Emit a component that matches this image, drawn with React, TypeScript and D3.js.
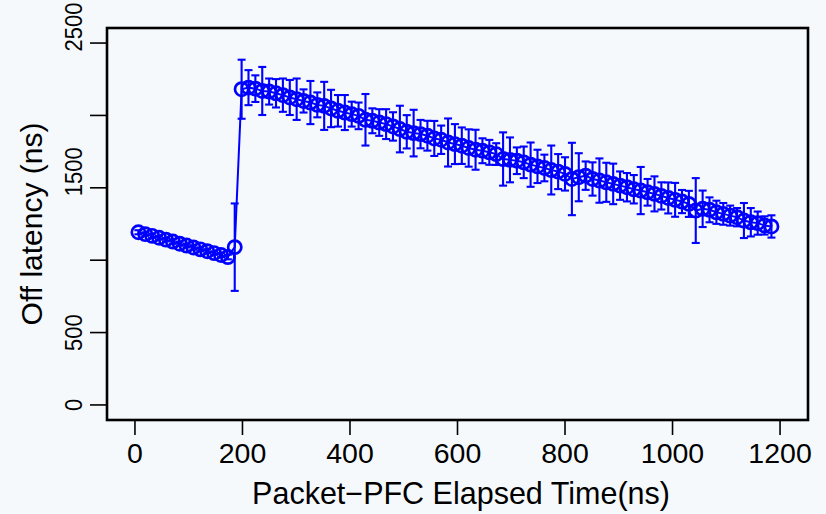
import React from "react";
import * as d3 from "d3";

// elapsed time (ns) between packet and PFC
const times = [
  6.4, 19.2, 32, 44.8, 57.6, 70.4, 83.2, 96, 108.8, 121.6, 134.4, 147.2, 160, 172.8,
  185.6, 198.4, 211.2, 224, 236.8, 249.6, 262.4, 275.2, 288, 300.8, 313.6, 326.4,
  339.2, 352, 364.8, 377.6, 390.4, 403.2, 416, 428.8, 441.6, 454.4, 467.2, 480,
  492.8, 505.6, 518.4, 531.2, 544, 556.8, 569.6, 582.4, 595.2, 608, 620.8, 633.6,
  646.4, 659.2, 672, 684.8, 697.6, 710.4, 723.2, 736, 748.8, 761.6, 774.4, 787.2,
  800, 812.8, 825.6, 838.4, 851.2, 864, 876.8, 889.6, 902.4, 915.2, 928, 940.8,
  953.6, 966.4, 979.2, 992, 1004.8, 1017.6, 1030.4, 1043.2, 1056, 1068.8, 1081.6,
  1094.4, 1107.2, 1120, 1132.8, 1145.6, 1158.4, 1171.2, 1184,
];

// mean off latency (ns)
const latency = [
  1193, 1180, 1168, 1155, 1142, 1129, 1114, 1101, 1088, 1075, 1062, 1049, 1036, 1022,
  1090,
  2181, 2192, 2185, 2169, 2165, 2153, 2140, 2124, 2112, 2100, 2089, 2073, 2066, 2048,
  2032, 2020, 2009, 1997, 1970, 1963, 1951, 1940, 1924, 1906, 1887, 1878, 1871, 1860,
  1841, 1832, 1813, 1802, 1791, 1775, 1763, 1756, 1745, 1733, 1699, 1693,
  1687, 1676, 1660, 1648, 1637, 1623, 1612, 1596, 1561, 1573, 1584, 1561, 1550, 1538,
  1527, 1515, 1504, 1490, 1481, 1469, 1458, 1444, 1430, 1417, 1405, 1389, 1343, 1355,
  1348, 1331, 1320, 1308, 1297, 1274, 1262, 1256, 1240, 1233,
];

// error (+/-) around each mean
const errs = [
  14, 12, 15, 13, 12, 16, 14, 12, 15, 13, 14, 12, 15, 16,
  302,
  204, 121, 92, 166, 90, 98, 115, 121, 143, 80, 149, 86, 166, 129,
  109, 121, 86, 92, 178, 86, 92, 103, 98, 161, 115, 161, 98, 103,
  121, 98, 166, 138, 126, 129, 138, 86, 86, 75, 184, 155,
  92, 109, 153, 115, 92, 169, 121, 115, 250, 166, 98, 115, 153, 135,
  140, 98, 98, 98, 163, 92, 121, 94, 107, 117, 80, 90, 224, 126,
  86, 80, 75, 69, 63, 121, 98, 80, 63, 77,
];

const xTicks = [0, 200, 400, 600, 800, 1000, 1200];
const yTicks = [0, 500, 1000, 1500, 2000, 2500];
const yLabelTicks = [0, 500, 1500, 2500];

const W = 826;
const H = 514;
const box = { left: 107, right: 808, top: 28, bottom: 420 };
const font = "'Liberation Sans', Arial, Helvetica, sans-serif";
const blue = "#0000ff";

export default function App() {
  //scales, R style expanded range
  const x = d3.scaleLinear().domain([-52, 1252]).range([box.left, box.right]);
  const y = d3.scaleLinear().domain([-104, 2604]).range([box.bottom, box.top]);

  const pts = times.map((t, i) => ({ t, v: latency[i], e: errs[i] }));
  const line = d3
    .line<{ t: number; v: number }>()
    .x((d) => x(d.t))
    .y((d) => y(d.v));

  const cap = 4;

  return (
    <svg
      width={W}
      height={H}
      style={{ position: "absolute", left: 0, top: 0, background: "#f6f9fc" }}
      fontFamily={font}
    >
      <rect x={0} y={0} width={W} height={H} fill="#f6f9fc" />

      {/* error bars */}
      <g stroke={blue} strokeWidth={2.1} fill="none">
        {pts.map((d, i) => (
          <g key={i}>
            <line x1={x(d.t)} x2={x(d.t)} y1={y(d.v - d.e)} y2={y(d.v + d.e)} />
            <line x1={x(d.t) - cap} x2={x(d.t) + cap} y1={y(d.v - d.e)} y2={y(d.v - d.e)} />
            <line x1={x(d.t) - cap} x2={x(d.t) + cap} y1={y(d.v + d.e)} y2={y(d.v + d.e)} />
          </g>
        ))}
      </g>

      {/* line + open circles */}
      <path d={line(pts) || ""} fill="none" stroke={blue} strokeWidth={2} />
      <g stroke={blue} strokeWidth={2.7} fill="none">
        {pts.map((d, i) => (
          <circle key={i} cx={x(d.t)} cy={y(d.v)} r={6.6} />
        ))}
      </g>

      {/* box */}
      <rect
        x={box.left}
        y={box.top}
        width={box.right - box.left}
        height={box.bottom - box.top}
        fill="none"
        stroke="#000"
        strokeWidth={2.6}
      />

      {/* x axis */}
      <g>
        {xTicks.map((t) => (
          <g key={t}>
            <line x1={x(t)} x2={x(t)} y1={box.bottom} y2={box.bottom + 15} stroke="#000" strokeWidth={1.6} />
            <text x={x(t)} y={463} textAnchor="middle" fontSize={28.5} fill="#000">
              {t}
            </text>
          </g>
        ))}
        <text x={461} y={504} textAnchor="middle" fontSize={30.5} fill="#000">
          Packet−PFC Elapsed Time(ns)
        </text>
      </g>

      {/* y axis */}
      <g>
        {yTicks.map((t) => (
          <line key={t} x1={box.left - 17} x2={box.left} y1={y(t)} y2={y(t)} stroke="#000" strokeWidth={1.6} />
        ))}
        {yLabelTicks.map((t) => {
          // four-digit labels sit a little above their tick, as in the source plot
          const shift = String(t).length >= 4 ? -16 : 0;
          return (
            <text
              key={t}
              transform={`translate(82,${y(t) + shift}) rotate(-90) scale(1,1.08)`}
              textAnchor="middle"
              fontSize={22}
              fill="#000"
            >
              {t}
            </text>
          );
        })}
        <text
          transform={`translate(42,${(box.top + box.bottom) / 2}) rotate(-90)`}
          textAnchor="middle"
          fontSize={30}
          fill="#000"
        >
          Off latency (ns)
        </text>
      </g>
    </svg>
  );
}
